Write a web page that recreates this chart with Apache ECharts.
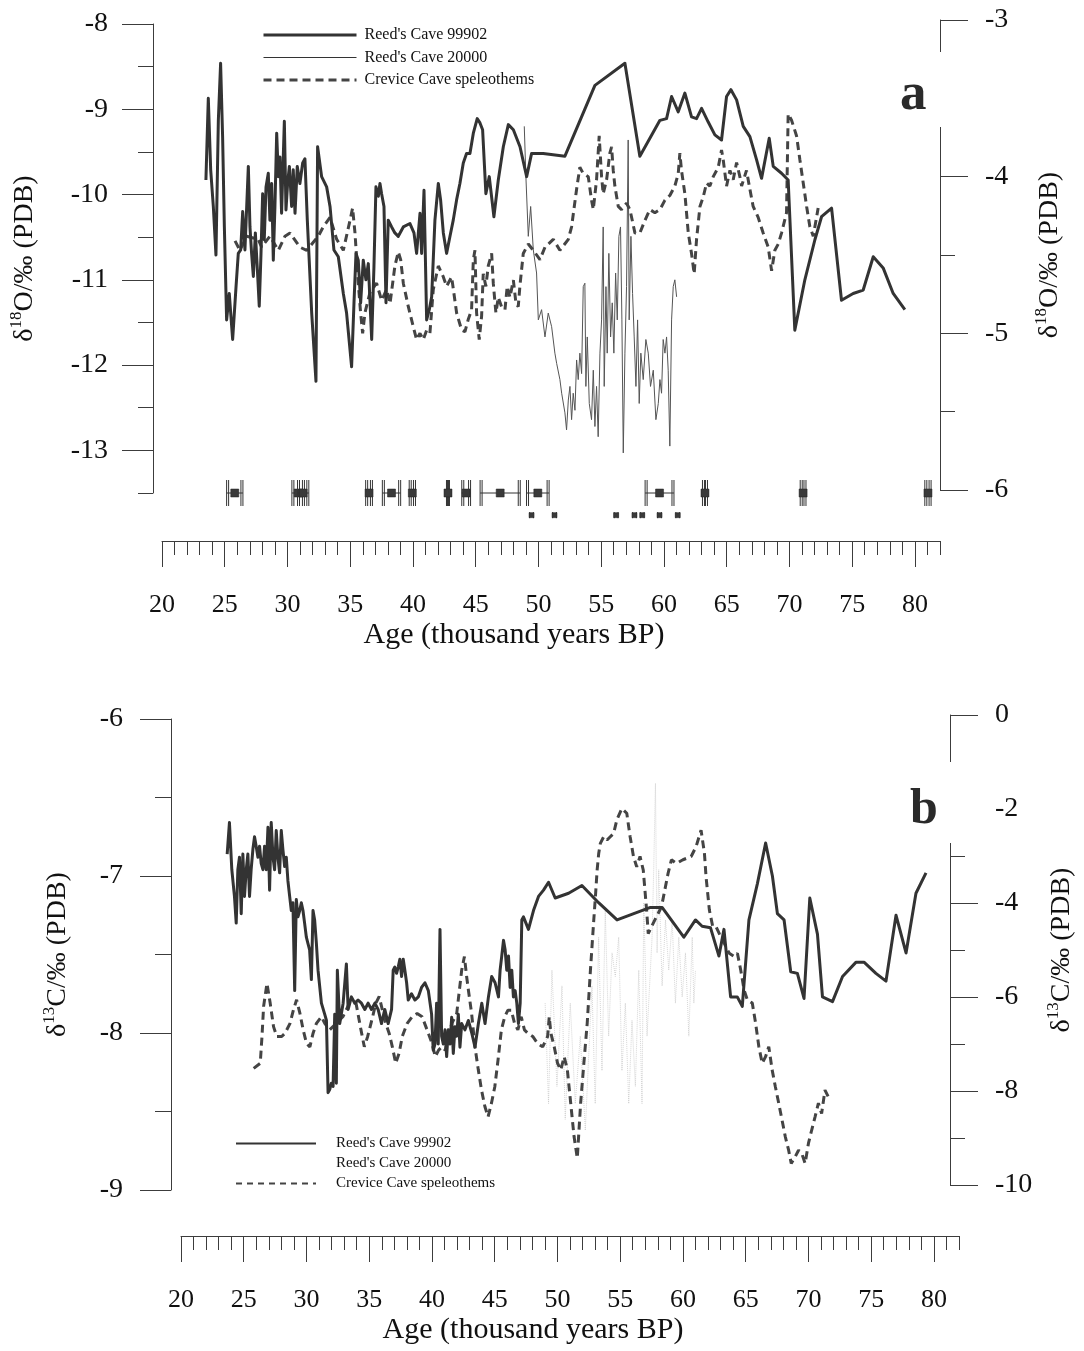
<!DOCTYPE html>
<html><head><meta charset="utf-8">
<script src="https://cdn.jsdelivr.net/npm/echarts@6/dist/echarts.min.js"></script>
<style>html,body{margin:0;padding:0;background:#fff}#c{width:1084px;height:1351px}</style>
</head><body><div id="c"></div>
<script>
const ageTicks = [20,25,30,35,40,45,50,55,60,65,70,75,80];
const leftTicksA = [-13,-12,-11,-10,-9,-8];
const rightTicksA = [-6,-5,-4,-3];
const leftTicksB = [-9,-8,-7,-6];
const rightTicksB = [-10,-8,-6,-4,-2,0];

// Panel a: delta18O
const a99902 = [[23.50,-9.83],[23.69,-8.87],[23.88,-9.71],[24.09,-10.14],[24.30,-10.71],[24.49,-9.13],[24.67,-8.46],[24.83,-9.32],[24.97,-10.38],[25.15,-11.47],[25.36,-11.16],[25.63,-11.70],[25.90,-11.08],[26.08,-10.69],[26.27,-10.65],[26.43,-10.20],[26.61,-10.65],[26.75,-10.14],[26.88,-9.67],[27.01,-10.38],[27.14,-10.69],[27.28,-10.96],[27.44,-10.45],[27.60,-10.88],[27.75,-11.31],[27.89,-10.69],[28.02,-9.99],[28.15,-10.53],[28.29,-9.91],[28.47,-9.75],[28.60,-10.30],[28.74,-9.87],[28.87,-10.77],[29.00,-10.14],[29.14,-9.28],[29.27,-9.79],[29.40,-9.56],[29.53,-10.22],[29.75,-9.14],[29.88,-10.18],[30.01,-9.87],[30.15,-9.67],[30.33,-10.14],[30.46,-9.71],[30.60,-10.22],[30.78,-9.67],[30.99,-9.87],[31.21,-9.63],[31.39,-9.58],[31.58,-10.30],[31.93,-11.39],[32.27,-12.19],[32.40,-9.44],[32.72,-9.79],[33.12,-9.91],[33.39,-10.14],[33.70,-10.65],[34.05,-10.73],[34.45,-11.16],[34.71,-11.39],[35.11,-12.02],[35.30,-11.27],[35.46,-10.69],[35.64,-10.77],[35.83,-11.27],[36.04,-10.77],[36.25,-11.00],[36.44,-10.81],[36.71,-11.70],[36.89,-10.85],[37.05,-9.91],[37.24,-10.02],[37.37,-9.87],[37.50,-9.99],[37.69,-10.14],[37.85,-11.27],[38.03,-10.30],[38.30,-10.38],[38.56,-10.45],[38.83,-10.49],[39.23,-10.38],[39.76,-10.34],[40.08,-10.45],[40.29,-10.69],[40.56,-10.22],[40.69,-10.69],[40.88,-9.95],[41.09,-11.47],[41.30,-11.35],[41.49,-11.20],[41.75,-10.30],[42.02,-9.87],[42.20,-10.06],[42.42,-10.45],[42.68,-10.69],[42.95,-10.49],[43.21,-10.30],[43.48,-10.06],[43.74,-9.87],[44.01,-9.63],[44.27,-9.52],[44.54,-9.52],[44.81,-9.28],[45.12,-9.11],[45.34,-9.16],[45.55,-9.24],[45.81,-9.99],[46.08,-9.79],[46.45,-10.26],[46.80,-9.83],[47.20,-9.44],[47.60,-9.18],[48.00,-9.24],[48.53,-9.44],[49.06,-9.79],[49.45,-9.52],[50.38,-9.52],[52.11,-9.55],[54.50,-8.72],[56.89,-8.46],[58.08,-9.55],[59.68,-9.13],[60.21,-9.11],[60.61,-8.85],[61.14,-9.03],[61.67,-8.81],[62.20,-9.09],[62.60,-9.11],[63.00,-8.99],[63.53,-9.15],[64.06,-9.30],[64.59,-9.36],[64.99,-8.85],[65.34,-8.77],[65.79,-8.89],[66.32,-9.20],[66.85,-9.32],[67.38,-9.59],[67.78,-9.81],[68.39,-9.34],[68.71,-9.67],[69.37,-9.75],[69.90,-9.83],[70.43,-11.59],[71.23,-11.00],[72.03,-10.53],[72.56,-10.26],[73.36,-10.16],[74.15,-11.24],[75.08,-11.16],[75.88,-11.12],[76.68,-10.73],[77.47,-10.86],[78.27,-11.16],[79.20,-11.35]];

const a20000 = [[48.87,-9.20],[49.00,-9.79],[49.19,-10.49],[49.38,-10.14],[49.59,-10.65],[49.85,-10.92],[49.99,-11.47],[50.25,-11.35],[50.52,-11.67],[50.78,-11.39],[51.05,-11.55],[51.31,-11.86],[51.45,-11.98],[51.71,-12.17],[51.85,-12.33],[52.11,-12.56],[52.24,-12.76],[52.38,-12.41],[52.51,-12.25],[52.64,-12.64],[52.77,-12.33],[52.91,-12.53],[53.04,-11.94],[53.17,-12.17],[53.30,-11.86],[53.44,-12.10],[53.57,-11.08],[53.70,-11.04],[53.78,-12.25],[53.89,-11.67],[54.05,-12.45],[54.23,-12.64],[54.37,-12.06],[54.50,-12.72],[54.63,-12.25],[54.76,-12.84],[54.90,-11.86],[55.03,-11.47],[55.16,-10.38],[55.24,-12.25],[55.38,-11.08],[55.48,-11.86],[55.61,-10.69],[55.75,-11.67],[55.88,-11.27],[56.01,-11.86],[56.15,-10.92],[56.28,-11.47],[56.41,-10.49],[56.54,-10.38],[56.65,-11.47],[56.76,-13.03],[56.89,-11.86],[57.02,-11.08],[57.15,-9.36],[57.23,-11.47],[57.37,-10.49],[57.50,-11.16],[57.63,-11.67],[57.77,-12.25],[57.90,-11.47],[58.03,-12.45],[58.16,-11.86],[58.35,-12.17],[58.56,-11.70],[58.75,-11.86],[58.93,-12.25],[59.15,-12.06],[59.36,-12.64],[59.55,-12.45],[59.68,-12.17],[59.81,-12.33],[59.94,-11.70],[60.08,-11.86],[60.21,-11.67],[60.34,-12.06],[60.47,-12.95],[60.61,-11.47],[60.74,-11.08],[60.87,-11.00],[61.01,-11.20]];

const aCrevice = [[25.82,-4.41],[26.21,-4.47],[26.75,-4.38],[27.67,-4.40],[27.94,-4.45],[28.60,-4.38],[29.27,-4.47],[29.80,-4.38],[30.20,-4.36],[30.99,-4.45],[31.53,-4.47],[32.46,-4.38],[32.85,-4.32],[33.39,-4.26],[33.92,-4.40],[34.45,-4.47],[34.98,-4.28],[35.19,-4.20],[35.38,-4.36],[35.64,-4.68],[35.83,-4.87],[35.99,-5.00],[36.17,-4.87],[36.57,-4.74],[37.10,-4.68],[37.50,-4.79],[37.90,-4.72],[38.17,-4.81],[38.56,-4.57],[38.83,-4.48],[39.02,-4.53],[39.23,-4.68],[39.63,-4.83],[40.03,-4.96],[40.29,-5.04],[40.56,-5.00],[40.82,-5.04],[41.09,-4.98],[41.35,-5.00],[41.62,-4.72],[42.02,-4.57],[42.42,-4.64],[42.68,-4.70],[43.08,-4.64],[43.48,-4.87],[43.88,-4.98],[44.14,-4.99],[44.41,-4.91],[44.67,-4.85],[44.81,-4.53],[44.94,-4.47],[45.07,-4.87],[45.28,-5.04],[45.47,-4.89],[45.60,-4.62],[45.81,-4.70],[46.00,-4.57],[46.27,-4.49],[46.40,-4.68],[46.61,-4.87],[46.80,-4.77],[47.06,-4.83],[47.33,-4.85],[47.51,-4.70],[47.73,-4.77],[48.00,-4.66],[48.21,-4.81],[48.39,-4.83],[48.52,-4.70],[48.79,-4.49],[49.19,-4.43],[49.59,-4.47],[50.12,-4.53],[50.52,-4.45],[51.18,-4.40],[51.71,-4.47],[52.38,-4.40],[52.64,-4.32],[53.04,-4.08],[53.30,-3.94],[53.57,-3.98],[53.97,-4.00],[54.23,-4.15],[54.37,-4.21],[54.63,-4.02],[54.84,-3.74],[55.03,-4.00],[55.16,-4.11],[55.43,-4.02],[55.69,-3.85],[55.83,-3.81],[55.96,-3.96],[56.09,-4.06],[56.36,-4.19],[56.62,-4.21],[57.02,-4.17],[57.29,-4.21],[57.69,-4.36],[58.08,-4.36],[58.48,-4.28],[58.88,-4.21],[59.28,-4.23],[59.68,-4.21],[60.08,-4.15],[60.47,-4.12],[60.87,-4.06],[61.14,-3.98],[61.27,-3.85],[61.40,-3.96],[61.67,-4.11],[61.94,-4.36],[62.20,-4.49],[62.41,-4.62],[62.60,-4.40],[62.87,-4.19],[63.13,-4.13],[63.40,-4.04],[63.66,-4.06],[63.93,-4.00],[64.33,-3.94],[64.59,-3.83],[64.72,-3.89],[64.99,-4.06],[65.26,-3.96],[65.52,-4.02],[65.79,-3.91],[66.05,-4.00],[66.19,-4.06],[66.58,-3.96],[66.85,-4.08],[67.11,-4.19],[67.51,-4.26],[67.91,-4.36],[68.31,-4.45],[68.58,-4.60],[68.84,-4.47],[69.11,-4.43],[69.37,-4.36],[69.77,-4.23],[69.90,-3.60],[70.17,-3.64],[70.57,-3.74],[70.83,-3.89],[71.10,-4.04],[71.37,-4.19],[71.63,-4.32],[71.90,-4.38],[72.16,-4.26],[72.29,-4.20]];

// U-Th dates (age, 2-sigma) drawn under panel a
const dates99902 = [[25.8,0.65],[30.85,0.5],[31.25,0.45],[36.5,0.27],[38.29,0.73],[39.95,0.25],[42.79,0.12],[44.24,0.35],[46.95,1.6],[49.95,0.9],[59.65,1.15],[63.27,0.2],[71.09,0.23],[81.04,0.25]];
const dates20000 = [[49.45,0.15],[51.28,0.15],[56.19,0.15],[57.65,0.15],[58.27,0.15],[59.65,0.15],[61.1,0.15]];
const dateLevel99902 = -13.5;
const dateLevel20000 = -13.76;

// Panel b: delta13C
const b99902 = [[23.68,-6.86],[23.86,-6.66],[24.05,-6.96],[24.26,-7.13],[24.40,-7.30],[24.53,-6.96],[24.66,-6.88],[24.80,-7.24],[24.93,-6.86],[25.06,-7.13],[25.20,-6.96],[25.33,-6.86],[25.46,-7.13],[25.59,-6.96],[25.73,-6.83],[25.86,-6.75],[25.99,-6.81],[26.13,-6.88],[26.26,-6.81],[26.39,-6.92],[26.53,-6.96],[26.66,-6.81],[26.79,-6.96],[26.93,-6.69],[27.06,-7.09],[27.19,-6.66],[27.33,-6.88],[27.46,-6.96],[27.59,-6.71],[27.72,-6.88],[27.86,-6.98],[27.99,-6.71],[28.12,-6.83],[28.26,-6.94],[28.39,-6.88],[28.52,-7.03],[28.66,-7.13],[28.79,-7.22],[28.92,-7.17],[29.06,-7.73],[29.19,-7.15],[29.32,-7.26],[29.46,-7.22],[29.59,-7.17],[29.72,-7.22],[29.85,-7.30],[29.99,-7.39],[30.12,-7.43],[30.25,-7.47],[30.39,-7.66],[30.52,-7.22],[30.65,-7.28],[30.79,-7.43],[30.92,-7.60],[31.19,-7.81],[31.45,-7.88],[31.59,-7.92],[31.72,-8.38],[31.85,-8.36],[31.98,-8.32],[32.12,-8.34],[32.25,-7.88],[32.38,-8.32],[32.46,-7.60],[32.65,-7.94],[32.92,-7.81],[33.18,-7.56],[33.32,-7.85],[33.58,-7.77],[33.85,-7.81],[34.11,-7.79],[34.38,-7.81],[34.65,-7.85],[34.91,-7.81],[35.18,-7.85],[35.45,-7.81],[35.71,-7.85],[35.98,-7.94],[36.24,-7.85],[36.51,-7.94],[36.78,-7.85],[36.91,-7.60],[37.04,-7.58],[37.18,-7.62],[37.31,-7.58],[37.44,-7.53],[37.58,-7.64],[37.71,-7.53],[37.84,-7.60],[37.98,-7.68],[38.11,-7.79],[38.37,-7.75],[38.64,-7.79],[38.91,-7.77],[39.17,-7.71],[39.44,-7.68],[39.71,-7.73],[39.97,-7.88],[40.10,-8.11],[40.24,-8.07],[40.37,-7.81],[40.50,-8.07],[40.64,-7.34],[40.77,-8.02],[40.90,-8.07],[41.04,-7.98],[41.17,-8.15],[41.30,-7.98],[41.44,-8.07],[41.57,-7.90],[41.70,-8.13],[41.84,-7.96],[41.97,-8.02],[42.10,-7.88],[42.23,-8.09],[42.37,-7.94],[42.63,-7.98],[42.90,-7.92],[43.17,-8.00],[43.43,-8.09],[43.70,-7.94],[43.97,-7.81],[44.23,-7.94],[44.50,-7.77],[44.76,-7.64],[45.03,-7.68],[45.30,-7.77],[45.43,-7.60],[45.56,-7.51],[45.70,-7.41],[45.83,-7.47],[45.96,-7.60],[46.10,-7.51],[46.23,-7.71],[46.36,-7.60],[46.49,-7.77],[46.63,-7.73],[46.76,-7.81],[46.89,-7.94],[47.03,-7.81],[47.16,-7.28],[47.29,-7.26],[47.69,-7.34],[48.09,-7.22],[48.49,-7.13],[48.89,-7.09],[49.29,-7.04],[49.82,-7.14],[50.89,-7.11],[51.95,-7.06],[53.28,-7.17],[54.75,-7.28],[57.41,-7.20],[58.34,-7.20],[60.07,-7.39],[61.00,-7.28],[61.53,-7.32],[62.20,-7.33],[62.87,-7.51],[63.27,-7.34],[63.80,-7.77],[64.33,-7.77],[64.73,-7.83],[65.26,-7.28],[65.93,-7.05],[66.59,-6.79],[67.13,-7.00],[67.53,-7.24],[68.06,-7.28],[68.59,-7.61],[69.12,-7.62],[69.65,-7.78],[70.11,-7.14],[70.72,-7.37],[71.12,-7.77],[71.92,-7.80],[72.72,-7.64],[73.78,-7.55],[74.45,-7.55],[75.38,-7.62],[76.18,-7.67],[76.98,-7.25],[77.78,-7.49],[78.57,-7.11],[79.37,-6.98]];

const b20000 = [[49.02,-7.81],[49.29,-8.45],[49.56,-7.60],[49.96,-8.34],[50.36,-7.70],[50.62,-8.55],[51.02,-7.81],[51.42,-8.45],[51.82,-8.02],[52.22,-8.62],[52.62,-7.92],[52.75,-7.70],[53.01,-8.45],[53.28,-7.39],[53.55,-8.24],[53.81,-7.22],[54.08,-8.02],[54.35,-7.49],[54.61,-7.64],[54.88,-7.39],[55.14,-8.24],[55.41,-7.81],[55.68,-8.45],[55.94,-7.92],[56.21,-8.34],[56.48,-7.60],[56.74,-8.45],[56.88,-7.17],[57.14,-8.02],[57.27,-7.81],[57.54,-7.39],[57.67,-6.96],[57.81,-6.41],[57.94,-7.49],[58.07,-6.96],[58.34,-7.70],[58.61,-7.28],[58.87,-7.60],[59.14,-7.28],[59.40,-7.81],[59.67,-7.39],[59.94,-7.77],[60.20,-7.49],[60.47,-8.02],[60.74,-7.39],[60.87,-7.81],[61.00,-7.60]];

const bCrevice = [[25.86,-7.52],[26.39,-7.41],[26.53,-6.84],[26.66,-6.20],[26.93,-5.71],[27.19,-6.13],[27.46,-6.63],[27.72,-6.84],[28.12,-6.84],[28.39,-6.77],[28.79,-6.56],[29.06,-6.28],[29.32,-6.06],[29.59,-6.35],[29.85,-6.70],[30.12,-6.99],[30.39,-7.06],[30.65,-6.77],[30.92,-6.56],[31.32,-6.42],[31.59,-6.56],[31.98,-6.70],[32.52,-6.56],[33.05,-6.42],[33.58,-6.13],[34.11,-6.13],[34.51,-6.70],[34.78,-7.06],[35.05,-6.84],[35.45,-6.42],[35.71,-6.13],[35.98,-5.99],[36.24,-6.28],[36.51,-6.56],[36.78,-6.77],[37.04,-7.06],[37.31,-7.41],[37.58,-7.20],[37.84,-6.84],[38.24,-6.56],[38.64,-6.42],[39.04,-6.35],[39.44,-6.42],[39.84,-6.70],[40.24,-6.99],[40.50,-7.27],[40.77,-7.13],[41.04,-7.06],[41.30,-7.13],[41.57,-6.84],[41.84,-6.56],[42.23,-6.35],[42.63,-5.43],[42.85,-5.14],[43.03,-5.57],[43.17,-5.85],[43.43,-6.35],[43.70,-7.06],[43.97,-7.55],[44.23,-7.98],[44.50,-8.33],[44.76,-8.55],[45.03,-8.26],[45.30,-7.91],[45.56,-7.34],[45.83,-6.70],[46.10,-6.42],[46.36,-6.28],[46.63,-6.28],[46.89,-6.56],[47.16,-6.70],[47.43,-6.42],[47.69,-6.70],[47.96,-6.77],[48.36,-6.84],[48.76,-6.99],[49.16,-7.06],[49.56,-6.84],[49.69,-6.42],[49.82,-6.77],[50.09,-7.06],[50.36,-7.41],[50.62,-7.55],[50.89,-7.27],[51.15,-7.55],[51.42,-8.26],[51.69,-8.97],[51.95,-9.43],[52.22,-8.26],[52.48,-7.41],[52.75,-6.56],[53.01,-5.43],[53.28,-4.36],[53.41,-3.87],[53.55,-3.30],[53.68,-2.94],[53.81,-2.73],[54.08,-2.59],[54.35,-2.66],[54.61,-2.59],[54.88,-2.52],[55.14,-2.23],[55.54,-1.99],[55.94,-2.09],[56.21,-2.59],[56.48,-3.01],[56.74,-3.23],[57.01,-3.01],[57.27,-3.30],[57.54,-4.15],[57.67,-4.65],[57.94,-4.50],[58.34,-4.29],[58.74,-4.08],[59.01,-3.72],[59.27,-3.37],[59.54,-3.08],[59.94,-3.16],[60.47,-3.08],[61.13,-3.01],[61.53,-2.80],[61.93,-2.45],[62.20,-2.94],[62.33,-3.44],[62.60,-4.15],[62.87,-4.50],[63.13,-4.50],[63.40,-4.65],[63.80,-4.86],[64.20,-5.07],[64.60,-5.14],[64.86,-5.07],[65.13,-5.43],[65.40,-5.85],[65.66,-6.06],[66.06,-6.13],[66.33,-6.56],[66.59,-7.06],[66.86,-7.41],[67.13,-7.27],[67.39,-7.06],[67.66,-7.55],[67.92,-7.91],[68.19,-8.26],[68.46,-8.62],[68.72,-8.97],[68.99,-9.26],[69.20,-9.54],[69.52,-9.40],[69.79,-9.26],[70.05,-9.33],[70.32,-9.54],[70.59,-9.11],[70.85,-8.83],[71.12,-8.55],[71.39,-8.26],[71.65,-8.48],[71.92,-7.98],[72.18,-8.12],[72.45,-8.19]];

const FONT = 'Liberation Serif, "Times New Roman", serif';
const AX = '#3c3c3c';
const INK = '#111';
const nameO = '{d|δ}{s|18}{d|O/‰ (PDB)}';
const nameC = '{d|δ}{s|13}{d|C/‰ (PDB)}';
const nameStyle = {fontFamily: FONT, color: INK, rich: {
  d: {fontSize: 28, fontFamily: FONT, color: INK, lineHeight: 34},
  s: {fontSize: 17, fontFamily: FONT, color: INK, lineHeight: 17, verticalAlign: 'top'}
}};

function rulerAxes(gridIndex, offset) {
  return [
    {type: 'value', gridIndex, min: 20, max: 82, interval: 1, position: 'bottom', offset,
     axisLine: {show: true, lineStyle: {color: AX, width: 1}},
     axisTick: {show: true, length: 14, lineStyle: {color: AX, width: 1}},
     axisLabel: {show: false}, splitLine: {show: false}},
    {type: 'value', gridIndex, min: 20, max: 82, position: 'bottom', offset,
     axisLine: {show: false},
     axisTick: {show: true, length: 26, customValues: ageTicks, lineStyle: {color: AX, width: 1}},
     axisLabel: {show: true, customValues: ageTicks, margin: 51, fontSize: 26, fontFamily: FONT, color: INK},
     splitLine: {show: false},
     name: 'Age (thousand years BP)', nameLocation: 'middle', nameGap: 79,
     nameTextStyle: {fontSize: 30, fontFamily: FONT, color: INK, padding: [0, 74, 0, 0]}}
  ];
}
function hiddenX(gridIndex) {
  return {type: 'value', gridIndex, min: 20, max: 82, show: false};
}
function yPair(gridIndex, position, min, max, minorInterval, majorVals, offset, majorLen, minorLen, margin, name, nameGap) {
  return [
    {type: 'value', gridIndex, position, min, max, interval: minorInterval, offset,
     axisLine: {show: true, lineStyle: {color: AX, width: 1}},
     axisTick: {show: true, length: minorLen, lineStyle: {color: AX, width: 1}},
     axisLabel: {show: false}, splitLine: {show: false}},
    {type: 'value', gridIndex, position, min, max, offset,
     axisLine: {show: false},
     axisTick: {show: true, length: majorLen, customValues: majorVals, lineStyle: {color: AX, width: 1}},
     axisLabel: {show: true, customValues: majorVals, margin, fontSize: 28, fontFamily: FONT, color: INK},
     splitLine: {show: false},
     name, nameLocation: 'middle', nameRotate: 90, nameGap, nameTextStyle: nameStyle}
  ];
}

function dateRenderer(capH, sq, doubleCap) {
  return function (params, api) {
    const age = api.value(0), err = api.value(1), lvl = api.value(2);
    const c = api.coord([age, lvl]);
    const lo = api.coord([age - err, lvl]);
    const hi = api.coord([age + err, lvl]);
    const st = {stroke: '#333', lineWidth: 1};
    const kids = [
      {type: 'line', shape: {x1: lo[0], y1: c[1], x2: hi[0], y2: c[1]}, style: st},
      {type: 'line', shape: {x1: lo[0], y1: c[1] - capH, x2: lo[0], y2: c[1] + capH}, style: st},
      {type: 'line', shape: {x1: hi[0], y1: c[1] - capH, x2: hi[0], y2: c[1] + capH}, style: st}
    ];
    if (doubleCap) {
      kids.push({type: 'line', shape: {x1: lo[0] + 2, y1: c[1] - capH, x2: lo[0] + 2, y2: c[1] + capH}, style: st});
      kids.push({type: 'line', shape: {x1: hi[0] - 2, y1: c[1] - capH, x2: hi[0] - 2, y2: c[1] + capH}, style: st});
    }
    kids.push({type: 'rect', shape: {x: c[0] - sq / 2, y: c[1] - sq / 2, width: sq, height: sq}, style: {fill: '#3a3a3a', stroke: '#222', lineWidth: 0.5}});
    return {type: 'group', children: kids};
  };
}

const lineBase = {type: 'line', showSymbol: false, symbol: 'none', smooth: false, animation: false};

const option = {
  backgroundColor: '#fff',
  animation: false,
  title: [
    {text: 'a', left: 893, top: 52, padding: [17, 35, 5, 7], backgroundColor: '#fff',
     textStyle: {fontFamily: FONT, fontSize: 53, fontWeight: 'bold', color: '#2a2a2a', lineHeight: 53}},
    {text: 'b', left: 905, top: 762, padding: [23, 43, 8, 5], backgroundColor: '#fff',
     textStyle: {fontFamily: FONT, fontSize: 50, fontWeight: 'bold', color: '#2a2a2a', lineHeight: 50}}
  ],
  legend: [
    {orient: 'vertical', left: 262, top: 27, padding: 0, itemWidth: 93, itemHeight: 16, itemGap: 6.5,
     itemStyle: {opacity: 0},
     textStyle: {fontFamily: FONT, fontSize: 16, color: INK, lineHeight: 16, padding: [0, 0, 0, 3]},
     data: [
       {name: "Reed's Cave 99902", lineStyle: {width: 3, color: '#333'}},
       {name: "Reed's Cave 20000", lineStyle: {width: 1, color: '#333'}},
       {name: 'Crevice Cave speleothems', lineStyle: {width: 3, color: '#444', type: [8, 5]}}
     ]},
    {orient: 'vertical', left: 235, top: 1136, padding: 0, itemWidth: 80, itemHeight: 15, itemGap: 5,
     itemStyle: {opacity: 0},
     textStyle: {fontFamily: FONT, fontSize: 15, color: INK, lineHeight: 15, padding: [0, 0, 0, 15]},
     data: [
       {name: "Reed's Cave 99902", lineStyle: {width: 2, color: '#333'}},
       {name: "Reed's Cave 20000", lineStyle: {width: 1, color: 'rgba(0,0,0,0)'}},
       {name: 'Crevice Cave speleothems', lineStyle: {width: 2, color: '#444', type: [6, 5]}}
     ]}
  ],
  grid: [
    {left: 162, width: 778, top: 24, height: 469, containLabel: false},
    {left: 162, width: 778, top: 20, height: 470, containLabel: false},
    {left: 181, width: 778, top: 719, height: 471, containLabel: false},
    {left: 181, width: 778, top: 715, height: 470, containLabel: false}
  ],
  xAxis: [].concat(rulerAxes(0, 48), [hiddenX(1)], rulerAxes(2, 46), [hiddenX(3)]),
  yAxis: [].concat(
    yPair(0, 'left', -13.5, -8, 0.5, leftTicksA, 9, 31, 15, 45, nameO, 111),
    yPair(1, 'right', -6, -3, 0.5, rightTicksA, 0, 28, 15, 45, nameO, 93),
    yPair(2, 'left', -9, -6, 0.5, leftTicksB, 10, 31, 16, 48, nameC, 96),
    yPair(3, 'right', -10, 0, 1, rightTicksB, 0, 28, 15, 45, nameC, 95)
  ),
  series: [
    Object.assign({}, lineBase, {name: "Reed's Cave 99902", xAxisIndex: 0, yAxisIndex: 0, data: a99902, z: 4,
      lineStyle: {color: '#333', width: 3, join: 'round'}}),
    Object.assign({}, lineBase, {name: "Reed's Cave 20000", xAxisIndex: 0, yAxisIndex: 0, data: a20000, z: 3,
      lineStyle: {color: '#555', width: 1}}),
    Object.assign({}, lineBase, {name: 'Crevice Cave speleothems', xAxisIndex: 2, yAxisIndex: 2, data: aCrevice, z: 3,
      lineStyle: {color: '#444', width: 3, type: [8, 5]}}),
    {type: 'custom', name: 'dates99902', xAxisIndex: 0, yAxisIndex: 0, clip: false, z: 5,
     encode: {x: 0, y: 2}, renderItem: dateRenderer(13, 8, true),
     data: dates99902.map(d => [d[0], d[1], dateLevel99902])},
    {type: 'custom', name: 'dates20000', xAxisIndex: 0, yAxisIndex: 0, clip: false, z: 5,
     encode: {x: 0, y: 2}, renderItem: dateRenderer(3, 5, false),
     data: dates20000.map(d => [d[0], d[1], dateLevel20000])},
    Object.assign({}, lineBase, {name: "Reed's Cave 99902", xAxisIndex: 3, yAxisIndex: 4, data: b99902, z: 4,
      lineStyle: {color: '#333', width: 3, join: 'round'}}),
    Object.assign({}, lineBase, {name: "Reed's Cave 20000", xAxisIndex: 3, yAxisIndex: 4, data: b20000, z: 2,
      lineStyle: {color: '#bbb', width: 1, type: 'dotted', opacity: 0.6}}),
    Object.assign({}, lineBase, {name: 'Crevice Cave speleothems', xAxisIndex: 5, yAxisIndex: 6, data: bCrevice, z: 3,
      lineStyle: {color: '#444', width: 3, type: [8, 5]}})
  ]
};

const chart = echarts.init(document.getElementById('c'), null, {renderer: 'canvas'});
chart.setOption(option);
</script>
</body></html>
